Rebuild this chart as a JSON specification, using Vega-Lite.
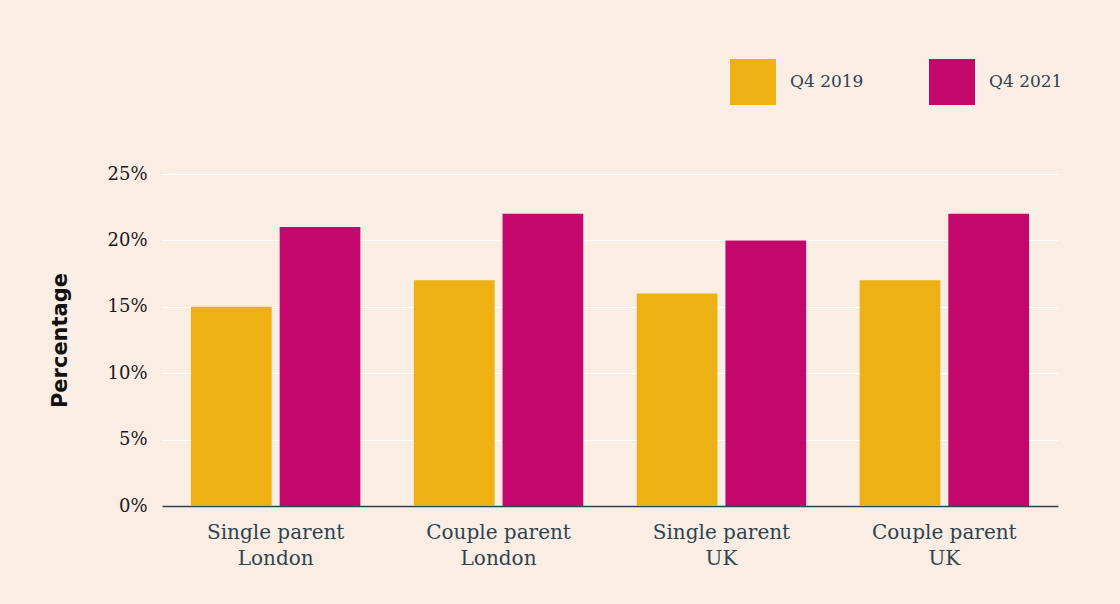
{
  "$schema": "https://vega.github.io/schema/vega-lite/v6.json",
  "autosize": {"type": "none"},
  "width": 896,
  "height": 332,
  "padding": {"left": 162, "top": 174, "right": 62, "bottom": 98},
  "background": "#FAEDE4",
  "config": {
    "view": {"stroke": null},
    "font": "DejaVu Serif"
  },
  "data": {
    "values": [
      {"group": "Single parent|London", "period": "Q4 2019", "value": 15},
      {"group": "Single parent|London", "period": "Q4 2021", "value": 21},
      {"group": "Couple parent|London", "period": "Q4 2019", "value": 17},
      {"group": "Couple parent|London", "period": "Q4 2021", "value": 22},
      {"group": "Single parent|UK", "period": "Q4 2019", "value": 16},
      {"group": "Single parent|UK", "period": "Q4 2021", "value": 20},
      {"group": "Couple parent|UK", "period": "Q4 2019", "value": 17},
      {"group": "Couple parent|UK", "period": "Q4 2021", "value": 22}
    ]
  },
  "mark": {"type": "bar"},
  "encoding": {
    "x": {
      "field": "group",
      "type": "nominal",
      "sort": null,
      "scale": {"paddingInner": 0.24, "paddingOuter": 0.13},
      "axis": {
        "title": null,
        "labelAngle": 0,
        "labelExpr": "split(datum.label, '|')",
        "labelFont": "DejaVu Serif",
        "labelFontSize": 20,
        "labelLineHeight": 26,
        "labelColor": "#2E4450",
        "labelPadding": 16,
        "ticks": false,
        "domain": true,
        "domainColor": "#2E4450",
        "domainWidth": 1.5,
        "labelLimit": 300
      }
    },
    "xOffset": {
      "field": "period",
      "type": "nominal",
      "scale": {"paddingInner": 0.09, "paddingOuter": 0}
    },
    "y": {
      "field": "value",
      "type": "quantitative",
      "scale": {"domain": [0, 25], "nice": false},
      "axis": {
        "title": "Percentage",
        "titleFont": "DejaVu Sans",
        "titleFontSize": 21,
        "titleFontWeight": "bold",
        "titleColor": "#111111",
        "titlePadding": 36,
        "values": [0, 5, 10, 15, 20, 25],
        "labelExpr": "datum.value + '%'",
        "labelFontSize": 18,
        "labelColor": "#1A1A1A",
        "labelPadding": 15,
        "ticks": false,
        "domain": false,
        "grid": true,
        "gridColor": "#FFFFFF",
        "gridWidth": 1.2
      }
    },
    "color": {
      "field": "period",
      "type": "nominal",
      "scale": {"domain": ["Q4 2019", "Q4 2021"], "range": ["#EDB114", "#C4086B"]},
      "legend": {
        "title": null,
        "orient": "none",
        "direction": "horizontal",
        "legendX": 568,
        "legendY": -115,
        "symbolType": "square",
        "symbolSize": 2116,
        "symbolStrokeWidth": 0,
        "symbolOpacity": 1,
        "labelFontSize": 17,
        "labelColor": "#2E4450",
        "labelOffset": 14,
        "columnPadding": 65,
        "padding": 0
      }
    }
  }
}
